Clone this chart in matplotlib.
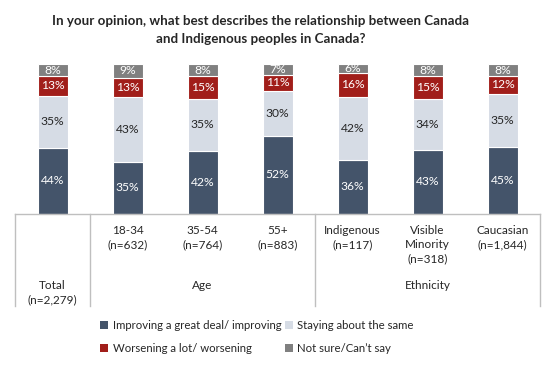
import matplotlib

matplotlib.use("Agg")
import matplotlib.pyplot as plt
from matplotlib.patches import Patch

plt.rcParams["font.family"] = ["Lato", "DejaVu Sans"]

groups = ["Total\n(n=2,279)", "18-34\n(n=632)", "35-54\n(n=764)", "55+\n(n=883)",
          "Indigenous\n(n=117)", "Visible\nMinority\n(n=318)", "Caucasian\n(n=1,844)"]
improving = [44, 35, 42, 52, 36, 43, 45]
same = [35, 43, 35, 30, 42, 34, 35]
worsening = [13, 13, 15, 11, 16, 15, 12]
not_sure = [8, 9, 8, 7, 6, 8, 8]
series_names = ["Improving a great deal/ improving", "Staying about the same",
                "Worsening a lot/ worsening", "Not sure/Can\u2019t say"]
colors = ["#44546A", "#D6DCE5", "#A11E1A", "#808080"]
text_colors = ["white", "#262626", "white", "white"]

W, H = 554, 365
fig = plt.figure(figsize=(W / 100, H / 100), dpi=100)
ax = fig.add_axes([15 / W, 1 - 214 / H, 525 / W, 150 / H])

x = range(len(groups))
bottom = [0] * len(groups)
for vals, col, tcol in zip([improving, same, worsening, not_sure], colors, text_colors):
    ax.bar(x, vals, width=0.4, bottom=bottom, color=col, edgecolor="white", linewidth=0.8)
    for i, v in enumerate(vals):
        ax.text(i, bottom[i] + v / 2, f"{v}%", ha="center", va="center",
                fontsize=8.7, color=tcol)
    bottom = [b + v for b, v in zip(bottom, vals)]

ax.set_xlim(-0.5, 6.5)
ax.set_ylim(0, 100)
ax.axis("off")

# table below the bars
line_col = "#BFBFBF"
ax.plot([-0.5, 6.5], [0, 0], color=line_col, lw=1, clip_on=False)
for xv in [-0.5, 0.5, 3.5, 6.5]:
    ax.plot([xv, xv], [0, -61], color=line_col, lw=1, clip_on=False)

for i, g in enumerate(groups):
    ytop = -44 if i == 0 else -7
    ax.text(i, ytop, g, ha="center", va="top", fontsize=8.5, color="#262626",
            linespacing=1.4)
ax.text(2, -44, "Age", ha="center", va="top", fontsize=8.5, color="#262626")
ax.text(5, -44, "Ethnicity", ha="center", va="top", fontsize=8.5, color="#262626")

fig.text(261 / W, 1 - 30 / H,
         "In your opinion, what best describes the relationship between Canada\n"
         "and Indigenous peoples in Canada?",
         ha="center", va="center", fontsize=9.6, fontweight="bold", color="#262626",
         linespacing=1.6)

handles = [Patch(facecolor=c, edgecolor="none") for c in colors]
order = [0, 2, 1, 3]
fig.legend([handles[k] for k in order], [series_names[k] for k in order],
           ncol=2, loc="upper left", bbox_to_anchor=(90 / W, 1 - 310 / H),
           frameon=False, fontsize=8.2, handlelength=0.7, handleheight=0.7,
           handletextpad=0.4, columnspacing=0.3, labelspacing=1.05,
           labelcolor="#262626")

fig.savefig("out.png", dpi=100)
